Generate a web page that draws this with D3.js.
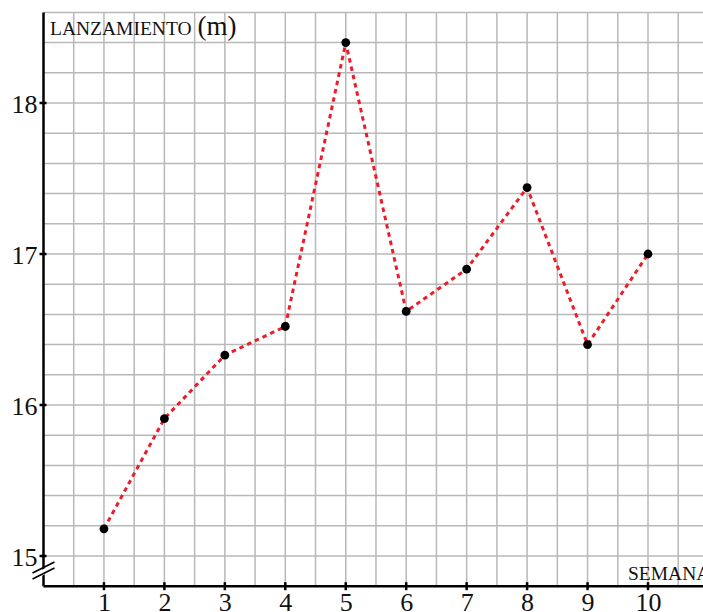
<!DOCTYPE html>
<html><head><meta charset="utf-8">
<script src="https://cdn.jsdelivr.net/npm/d3@7"></script>
<style>body{margin:0;background:#fff}svg{display:block}</style>
</head><body>
<script>
const weeks = [1,2,3,4,5,6,7,8,9,10];
const throws = [15.18,15.91,16.33,16.52,18.40,16.62,16.90,17.44,16.40,17.00];
const yTicks = [15,16,17,18];
const xTicks = [1,2,3,4,5,6,7,8,9,10];

const W=703,H=612;
const x = d3.scaleLinear().domain([0,10]).range([43.5,648]);
const y = d3.scaleLinear().domain([15,18]).range([556,103]);
const svg = d3.select("body").append("svg").attr("width",W).attr("height",H);

const xMax = x.invert(W), yBot = 14.8, yTop = 18.6;
// grid
const g = svg.append("g").attr("stroke","#b8b8b8").attr("stroke-width",1.5);
for(let v=0.5; v<=xMax; v+=0.5){
  g.append("line").attr("x1",x(v)).attr("x2",x(v)).attr("y1",y(yTop)).attr("y2",y(yBot));
}
for(let i=1;i<=19;i++){
  const v = yBot + i*0.2;
  g.append("line").attr("x1",x(0)).attr("x2",W).attr("y1",y(v)).attr("y2",y(v));
}
// axes
const font = "'Liberation Serif','DejaVu Serif',serif";
const xAxis = d3.axisBottom(x).tickValues(xTicks).tickFormat(d3.format("d")).tickSize(0).tickPadding(6);
svg.append("g").attr("transform",`translate(0,${y(yBot)})`).call(xAxis)
  .call(s=>{s.select(".domain").remove(); s.selectAll("text").attr("font-family",font).attr("font-size",26).attr("fill","#111").attr("dy","0.72em");});
svg.append("line").attr("x1",x(0)).attr("x2",W).attr("y1",y(yBot)).attr("y2",y(yBot)).attr("stroke","#000").attr("stroke-width",2.5);
svg.selectAll(".xt").data(xTicks).enter().append("line")
  .attr("x1",d=>x(d)).attr("x2",d=>x(d)).attr("y1",y(yBot)-4).attr("y2",y(yBot)+4).attr("stroke","#000").attr("stroke-width",2.5);

const yAxis = d3.axisLeft(y).tickValues(yTicks).tickFormat(d3.format("d")).tickSize(0).tickPadding(6);
svg.append("g").attr("transform",`translate(${x(0)},0)`).call(yAxis)
  .call(s=>{s.select(".domain").remove(); s.selectAll("text").attr("font-family",font).attr("font-size",26).attr("fill","#111").attr("dy","0.35em");});
svg.append("line").attr("x1",x(0)).attr("x2",x(0)).attr("y1",y(yTop)).attr("y2",y(yBot)).attr("stroke","#000").attr("stroke-width",2.5);
svg.selectAll(".yt").data(yTicks).enter().append("line")
  .attr("x1",x(0)-4).attr("x2",x(0)+3).attr("y1",d=>y(d)).attr("y2",d=>y(d)).attr("stroke","#000").attr("stroke-width",2.5);

// axis break
const bx=x(0), by=572;
svg.append("polygon").attr("points",`${bx-10},${by+8} ${bx+10},${by-2} ${bx+10},${by-8} ${bx-10},${by+2}`).attr("fill","#fff");
[-5,1].forEach(o=>{
  svg.append("line").attr("x1",bx-11).attr("y1",by+6+o).attr("x2",bx+11).attr("y2",by-5+o).attr("stroke","#000").attr("stroke-width",1.6);
});

// labels
svg.append("text").attr("x",50).attr("y",35).attr("font-family",font).attr("fill","#111")
  .html('<tspan font-size="19.5">LANZAMIENTO</tspan><tspan font-size="27" dx="6">(m)</tspan>');
svg.append("text").attr("x",628).attr("y",580).attr("font-family",font).attr("font-size",19.5).attr("fill","#111").text("SEMANA");

// line + points
const pts = weeks.map((w,i)=>[w,throws[i]]);
svg.append("path").attr("d",d3.line().x(d=>x(d[0])).y(d=>y(d[1]))(pts))
  .attr("fill","none").attr("stroke","#ec1c2b").attr("stroke-width",3).attr("stroke-dasharray","4.5,4");
svg.selectAll(".pt").data(pts).enter().append("circle")
  .attr("cx",d=>x(d[0])).attr("cy",d=>y(d[1])).attr("r",4.4).attr("fill","#000");
</script>
</body></html>
